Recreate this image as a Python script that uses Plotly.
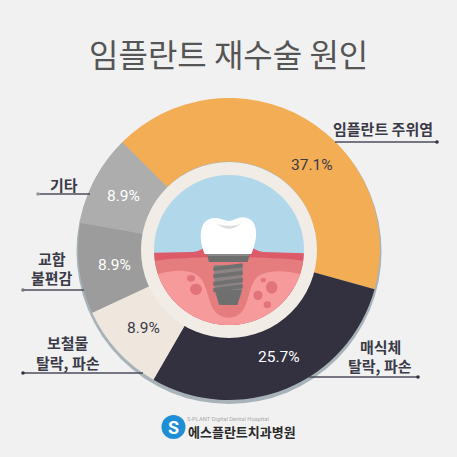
import numpy as np
import plotly.graph_objects as go

W = 457
categories = ["임플란트 주위염", "매식체 탈락, 파손", "보철물 탈락, 파손", "교합 불편감", "기타"]
printed_labels = ["37.1%", "25.7%", "8.9%", "8.9%", "8.9%"]
# the drawn slices are not proportional to their printed labels: sizes
drawn_share = [41.7, 29.0, 9.7, 9.7, 9.7]
slice_colors = ["#f2ad55", "#33313f", "#efe7dd", "#9c9c9c", "#adadad"]

CX, CY, R = 229, 249, 151
FONT = "Noto Sans CJK KR"
DARK = "#3a3a48"

def X(p): return p / W
def Y(p): return 1 - p / W

def zp(zx, zy):
    """illustration coordinates (3x crop) to paper"""
    return X(130 + zx / 3), Y(150 + zy / 3)

def path(cmds):
    out = []
    for c in cmds:
        if isinstance(c, str):
            out.append(c)
        else:
            x, y = zp(*c)
            out.append(f"{x:.5f},{y:.5f}")
    return " ".join(out)

ZC, ZR = (297, 300), 225

def below_circle(start_cmds, right_y, left_y):
    """closed region: given curve from left to right, then the lower arc of the illustration circle"""
    a0 = np.arcsin((right_y - ZC[1]) / ZR)
    a1 = np.pi - np.arcsin((left_y - ZC[1]) / ZR)
    cmds = list(start_cmds)
    for a in np.linspace(a0, a1, 60):
        cmds += ["L", (ZC[0] + ZR * np.cos(a), ZC[1] + ZR * np.sin(a))]
    return path(cmds + ["Z"])

def fill(p, color, layer="above"):
    return dict(type="path", path=p, xref="paper", yref="paper", fillcolor=color,
                line=dict(width=0), layer=layer)

def circle(cx, cy, r, color, layer="above", ry=None):
    ry = r if ry is None else ry
    return dict(type="circle", xref="paper", yref="paper", x0=X(cx - r), x1=X(cx + r),
                y0=Y(cy + ry), y1=Y(cy - ry), fillcolor=color, line=dict(width=0), layer=layer)

def zcircle(zx, zy, rx, ry, color):
    return circle(130 + zx / 3, 150 + zy / 3, rx / 3, color, ry=ry / 3)

shapes = [circle(229, 251.5, 152.5, "#a8b3b9", layer="below")]
shapes += [circle(229, 250, 88, "#f1ece6"), circle(229, 250, 75, "#b0d8ea")]

# gum, flesh, bone
shapes.append(fill(below_circle(["M", (72, 308), "L", (190, 306), "Q", (205, 304), (218, 296),
                                 "L", (372, 296), "Q", (385, 304), (400, 306), "L", (522, 310)], 310, 308), "#dd5a68"))
shapes.append(fill(below_circle(["M", (74, 333), "C", (120, 325), (170, 325), (225, 322),
                                 "L", (365, 322), "C", (420, 325), (470, 325), (520, 333)], 333, 333), "#e57c7e"))
shapes.append(fill(below_circle(["M", (86, 372), "C", (120, 362), (175, 355), (205, 378),
                                 "C", (245, 410), (225, 502), (297, 503),
                                 "C", (365, 502), (345, 410), (385, 378),
                                 "C", (420, 358), (470, 362), (508, 372)], 372, 372), "#f79a9c"))
for zx, zy, rx, ry in [(183, 385, 12, 10), (198, 418, 18, 17), (400, 390, 8, 7),
                       (425, 412, 17, 19), (384, 436, 14, 14), (412, 464, 11, 10)]:
    shapes.append(zcircle(zx, zy, rx, ry, "#e2737a"))

# implant
shapes.append(fill(path(["M", (252, 345), "L", (338, 345), "L", (336, 425), "L", (322, 465),
                         "L", (268, 465), "L", (254, 425), "Z"]), "#8c8484"))
shapes.append(fill(path(["M", (255, 420), "L", (335, 420), "L", (322, 465), "L", (268, 465), "Z"]), "#6f6f6f"))
for y0 in [345, 367, 389, 408]:
    shapes.append(fill(path(["M", (250, y0 + 6), "L", (338, y0 - 5), "L", (338, y0 + 7),
                             "L", (250, y0 + 18), "Z"]), "#707070"))
shapes.append(fill(path(["M", (230, 310), "L", (360, 310), "L", (353, 336), "L", (237, 336), "Z"]), "#6f6f6f"))
shapes.append(fill(path(["M", (230, 310), "L", (360, 310), "L", (358, 318), "L", (232, 318), "Z"]), "#8a8a8a"))
# crown
shapes.append(fill(path(["M", (224, 312), "C", (205, 265), (205, 205), (255, 204),
                         "C", (275, 204), (283, 213), (297, 213),
                         "C", (311, 213), (320, 202), (340, 202),
                         "C", (388, 205), (385, 265), (364, 312), "Z"]), "#ffffff"))
shapes.append(fill(path(["M", (262, 222), "Q", (297, 250), (332, 222), "Q", (297, 233), (262, 222), "Z"]), "#dcdcdc"))

# leader lines: (x0, x1, y, dot x, dot colour)
leaders = [(335, 437, 142, 437, "#33313f"), (309, 418, 377, 418, "#33313f"), (38, 90, 194, 38, "#999999"),
           (23, 84, 290, 23, "#777777"), (23, 143, 373, 23, "#33313f")]
for x0, x1, y, dx, dc in leaders:
    shapes.append(dict(type="line", xref="paper", yref="paper", x0=X(x0), x1=X(x1), y0=Y(y), y1=Y(y),
                       line=dict(color="#4d4d5c", width=1.4), layer="above"))
    shapes.append(circle(dx, y, 1.8, dc))

# logo mark
shapes.append(circle(173.5, 427, 12, "#1e8ed6"))

annotations = []
def text(s, x, y, size, color, family=FONT, bold=False):
    annotations.append(dict(text=f"<b>{s}</b>" if bold else s, x=X(x), y=Y(y), xref="paper", yref="paper",
                            showarrow=False, xanchor="center", yanchor="middle",
                            font=dict(size=size, color=color, family=family)))

text("임플란트 재수술 원인", 228, 53, 32, "#555555")
for s, (x, y), c in zip(printed_labels, [(312, 165), (279, 357), (143, 328), (114, 265), (123, 196)],
                        [DARK, "#ffffff", DARK, "#ffffff", "#ffffff"]):
    text(s, x, y, 15.5, c, family="Roboto")
text("임플란트 주위염", 383, 129, 15, DARK, bold=True)
text("매식체", 380, 346, 15, DARK, bold=True)
text("탈락, 파손", 380, 365, 15, DARK, bold=True)
text("기타", 64, 184, 15, DARK, bold=True)
text("교합", 52, 258, 15, DARK, bold=True)
text("불편감", 52, 277, 15, DARK, bold=True)
text("보철물", 68, 342, 15, DARK, bold=True)
text("탈락, 파손", 68, 362, 15, DARK, bold=True)
text("S", 173.5, 427, 18, "#ffffff", family="Roboto", bold=True)
text("S-PLANT Digital Dental Hospital", 228, 419, 5.8, "#aaaaaa", family="Roboto")
text("에스플란트치과병원", 242, 431, 13, "#2a2a2a", bold=True)

fig = go.Figure(go.Pie(
    labels=categories, values=drawn_share, sort=False, direction="clockwise", rotation=315,
    hole=0.58, marker=dict(colors=slice_colors, line=dict(width=0)), textinfo="none", showlegend=False,
    domain=dict(x=[X(CX - R), X(CX + R)], y=[Y(CY + R), Y(CY - R)]),
))
fig.update_layout(width=W, height=W, margin=dict(l=0, r=0, t=0, b=0), autosize=False,
                  paper_bgcolor="#f1f1f1", plot_bgcolor="#f1f1f1",
                  shapes=shapes, annotations=annotations)
fig.write_html("out.html", config=dict(displayModeBar=False),
               post_script="document.body.style.margin='0';document.documentElement.style.overflow='hidden';")
